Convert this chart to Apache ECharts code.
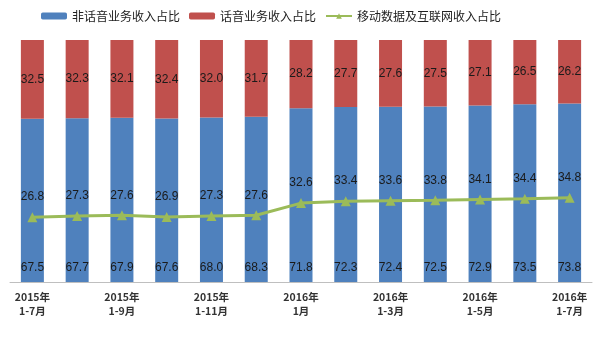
<!DOCTYPE html>
<html><head><meta charset="utf-8">
<script src="https://cdn.jsdelivr.net/npm/echarts@6/dist/echarts.min.js"></script>
<style>html,body{margin:0;padding:0;background:#fff}#c{width:600px;height:337px}</style>
</head><body><div id="c"></div>
<script>
const categories = ["2015年\n1-7月","2015年\n1-8月","2015年\n1-9月","2015年\n1-10月","2015年\n1-11月","2015年\n1-12月","2016年\n1月","2016年\n1-2月","2016年\n1-3月","2016年\n1-4月","2016年\n1-5月","2016年\n1-6月","2016年\n1-7月"];
const nonVoice = [67.5,67.7,67.9,67.6,68.0,68.3,71.8,72.3,72.4,72.5,72.9,73.5,73.8];
const voice = [32.5,32.3,32.1,32.4,32.0,31.7,28.2,27.7,27.6,27.5,27.1,26.5,26.2];
const mobileData = [26.8,27.3,27.6,26.9,27.3,27.6,32.6,33.4,33.6,33.8,34.1,34.4,34.8];
const seriesNames = ["非话音业务收入占比","话音业务收入占比","移动数据及互联网收入占比"];

const chart = echarts.init(document.getElementById('c'));
const lbl = {show:true, fontSize:12, color:'#1a1a1a', fontFamily:'Liberation Sans, Arial', formatter: p => p.value.toFixed(1)};
chart.setOption({
  animation:false,
  textStyle:{fontFamily:'Noto Sans CJK SC'},
  legend:{left:36, top:5, itemWidth:26, itemHeight:7, itemGap:9,
    textStyle:{fontSize:12, color:'#222', fontFamily:'Noto Sans CJK SC'},
    data:seriesNames},
  grid:{left:10, right:8, top:40, bottom:55},
  xAxis:{type:'category', data:categories,
    axisLine:{lineStyle:{color:'#bfbfbf'}}, axisTick:{show:false},
    axisLabel:{interval:1, fontSize:10.5, fontWeight:'bold', color:'#333', lineHeight:14, margin:8, fontFamily:'Noto Sans CJK SC'}},
  yAxis:{type:'value', min:0, max:100, show:false, splitLine:{show:false}},
  series:[
    {name:seriesNames[0], type:'bar', stack:'a', data:nonVoice, barWidth:23,
      itemStyle:{color:'#4F81BD'}, label:Object.assign({position:'insideBottom', distance:8}, lbl)},
    {name:seriesNames[1], type:'bar', stack:'a', data:voice, barWidth:23,
      itemStyle:{color:'#C0504D'}, label:Object.assign({position:'inside'}, lbl)},
    {name:seriesNames[2], type:'line', data:mobileData, symbol:'triangle', symbolSize:10,
      itemStyle:{color:'#9BBB59'}, lineStyle:{color:'#9BBB59', width:3},
      label:Object.assign({position:'top', distance:9}, lbl)}
  ]
});
</script></body></html>
